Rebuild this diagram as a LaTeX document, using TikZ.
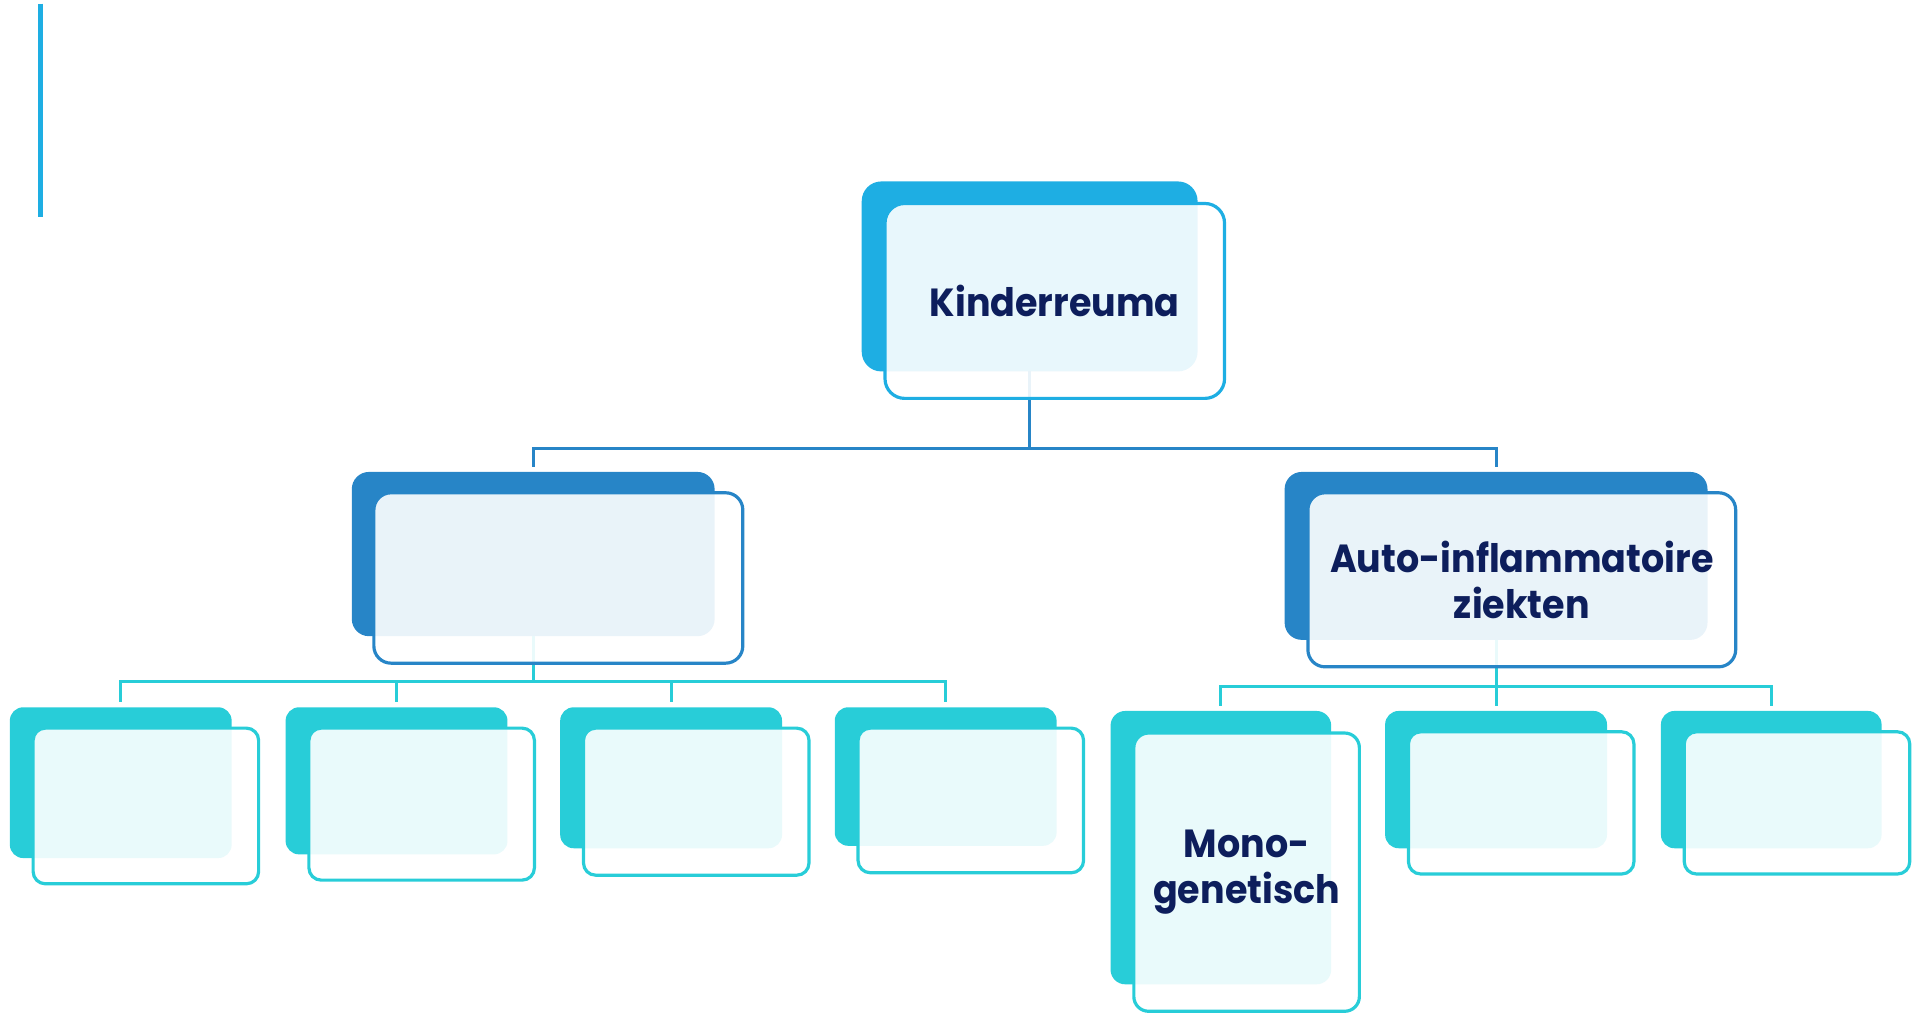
\documentclass[tikz,border=0pt]{standalone}
\usepackage{fontspec}
\setmainfont{Poppins}
\newfontfamily\boxfont{Poppins}[FakeStretch=0.93]
\definecolor{topblue}{HTML}{1EAEE3}
\definecolor{midblue}{HTML}{2785C7}
\definecolor{turq}{HTML}{28CDD8}
\definecolor{navy}{HTML}{0D1E5C}

\begin{document}
\begin{tikzpicture}[x=0.5pt, y=-0.5pt,
    backbox/.style={inner sep=0pt, outer sep=0pt},
    frontbox/.style={draw, line width=1.3pt, fill=white, fill opacity=0.9, text opacity=1,
        inner sep=0pt, outer sep=0pt, text=navy, align=center,
        font=\boxfont\bfseries\fontsize{16}{19}\selectfont},
    link/.style={line width=1.2pt}]

    \useasboundingbox (0,0) rectangle (1568,827);

    % Side bar
    \draw[topblue, line width=2pt] (33,3) -- (33,177);

    %%% BACK BOXES
    \foreach \n/\xa/\ya/\xb/\yb/\c/\r in {
        kr/703/148/977/303/topblue/8pt,
        jia/287/385/583/519/midblue/7pt, ai/1048/385/1393/522/midblue/7pt,
        la/8/577/189/700/turq/5.5pt, lb/233/577/414/697/turq/5.5pt,
        lc/457/577/638/692/turq/5.5pt, ld/681/577/862/690/turq/5.5pt,
        mono/906/580/1086/803/turq/6pt, rb/1130/580/1311/692/turq/5.5pt,
        rc/1355/580/1535/692/turq/5.5pt} {
        \node[backbox, fill=\c, rounded corners=\r,
            minimum width={(\xb-\xa)*0.5pt}, minimum height={(\yb-\ya)*0.5pt}]
            (\n-b) at ({(\xa+\xb)/2},{(\ya+\yb)/2}) {};
    }

    % Links
    \draw[link, midblue, shorten >=2pt] (kr-b.south) -- ++(0,63) -| (jia-b.north);
    \draw[link, midblue, shorten >=2pt] (kr-b.south) -- ++(0,63) -| (ai-b.north);
    \foreach \m in {la, lb, lc, ld}
        \draw[link, turq, shorten >=2pt] (jia-b.south) -- ++(0,37) -| (\m-b.north);
    \foreach \m in {mono, rb, rc}
        \draw[link, turq, shorten >=2pt] (ai-b.south) -- ++(0,38) -| (\m-b.north);

    %%% FRONT BOXES
    \foreach \n/\xa/\ya/\xb/\yb/\c/\r/\t in {
        kr/722/166/999/325/topblue/8pt/Kinderreuma,
        jia/305/402/606/541/midblue/7pt/{},
        ai/1067/402/1416/544/midblue/7pt/{Auto-inflammatoire\\ziekten},
        la/27/594/211/721/turq/5pt/{}, lb/252/594/436/718/turq/5pt/{},
        lc/476/594/660/714/turq/5pt/{}, ld/700/594/884/712/turq/5pt/{},
        mono/925/598/1109/825/turq/6pt/{Mono-\\genetisch},
        rb/1149/597/1333/713/turq/5pt/{}, rc/1374/597/1558/713/turq/5pt/{}} {
        \node[frontbox, draw=\c, rounded corners=\r,
            minimum width={(\xb-\xa)*0.5pt}, minimum height={(\yb-\ya)*0.5pt}]
            (\n) at ({(\xa+\xb)/2},{(\ya+\yb)/2}) {\t};
    }
\end{tikzpicture}
\end{document}
